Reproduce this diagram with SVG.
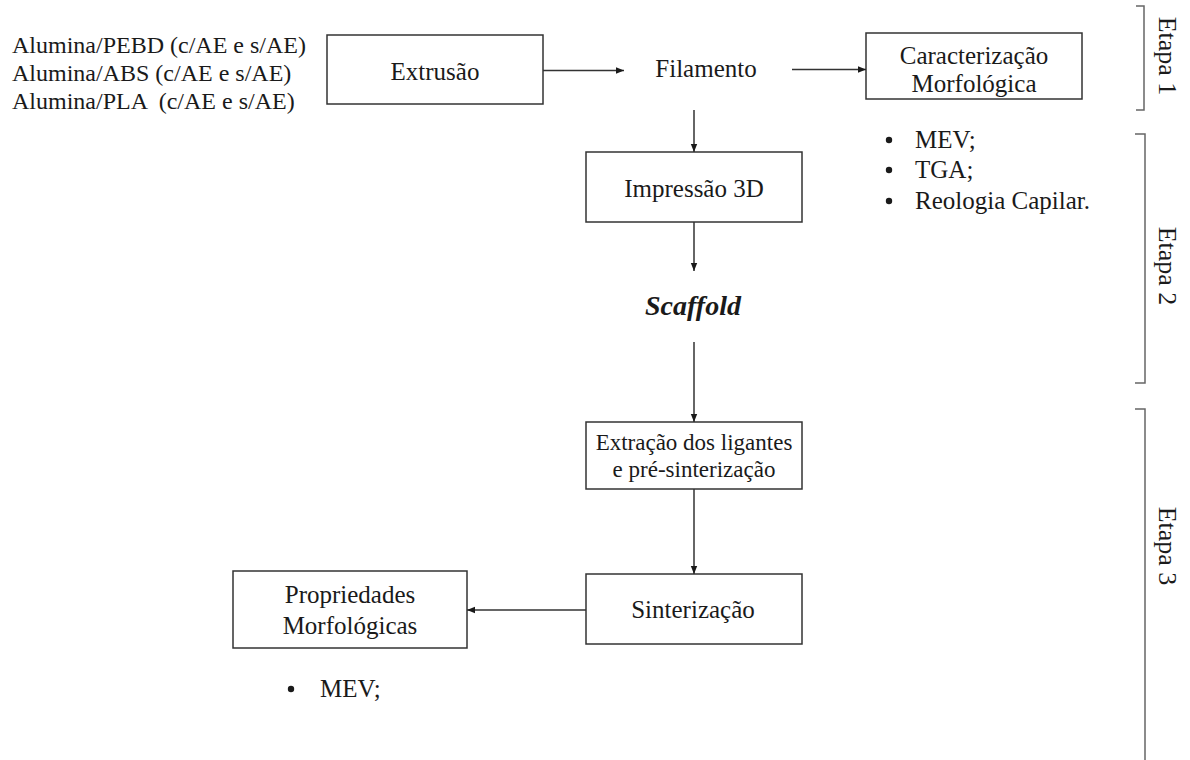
<svg xmlns="http://www.w3.org/2000/svg" width="1190" height="760" viewBox="0 0 1190 760">
<defs>
<style>
.t{font-family:"Liberation Serif","Times New Roman",serif;font-size:25px;fill:#1a1a1a}
.s{font-size:23px}
.l{font-size:24px}
.c{text-anchor:middle}
.box{fill:#fff;stroke:#333;stroke-width:1.5}
.ln{fill:none;stroke:#333;stroke-width:1.5}
.br{fill:none;stroke:#666;stroke-width:1.5}
.sc{font-weight:bold;font-style:italic;font-size:28px}
.dot{fill:#1a1a1a}
</style>
<marker id="ah" viewBox="0 0 10 10" refX="10" refY="5" markerWidth="8" markerHeight="8" markerUnits="userSpaceOnUse" orient="auto">
<path d="M0,1 L10,5 L0,9 Z" fill="#1a1a1a"/>
</marker>
</defs>
<rect width="1190" height="760" fill="#fff"/>

<g id="inputs">
<text class="t l" x="12" y="53">Alumina/PEBD (c/AE e s/AE)</text>
<text class="t l" x="12" y="81">Alumina/ABS (c/AE e s/AE)</text>
<text class="t l" x="12" y="109" xml:space="preserve">Alumina/PLA  (c/AE e s/AE)</text>
</g>

<g id="extrusao">
<rect class="box" x="327" y="35" width="216" height="69"/>
<text class="t c" x="435" y="80">Extrusão</text>
</g>

<g id="filamento">
<text class="t c" x="706" y="77">Filamento</text>
</g>

<g id="caracterizacao">
<rect class="box" x="866" y="33" width="216" height="66"/>
<text class="t c" x="974" y="64">Caracterização</text>
<text class="t c" x="974" y="92">Morfológica</text>
</g>

<g id="lista1">
<circle class="dot" cx="889" cy="140" r="3.2"/>
<circle class="dot" cx="889" cy="170" r="3.2"/>
<circle class="dot" cx="889" cy="201" r="3.2"/>
<text class="t" x="915" y="148">MEV;</text>
<text class="t" x="915" y="178">TGA;</text>
<text class="t" x="915" y="209">Reologia Capilar.</text>
</g>

<g id="impressao">
<rect class="box" x="586" y="152" width="216" height="70"/>
<text class="t c" x="694" y="197">Impressão 3D</text>
</g>

<g id="scaffold">
<text class="t sc c" x="693" y="315">Scaffold</text>
</g>

<g id="extracao">
<rect class="box" x="586" y="422" width="216" height="67"/>
<text class="t s c" x="694" y="450">Extração dos ligantes</text>
<text class="t s c" x="694" y="477">e pré-sinterização</text>
</g>

<g id="sinterizacao">
<rect class="box" x="586" y="574" width="216" height="70"/>
<text class="t c" x="693" y="618">Sinterização</text>
</g>

<g id="propriedades">
<rect class="box" x="233" y="571" width="234" height="77"/>
<text class="t c" x="350" y="603">Propriedades</text>
<text class="t c" x="350" y="634">Morfológicas</text>
</g>

<g id="lista2">
<circle class="dot" cx="291" cy="689" r="3.2"/>
<text class="t" x="320" y="697">MEV;</text>
</g>

<g id="etapas">
<path class="br" d="M1136,6 H1144 V110 H1136"/>
<path class="br" d="M1135,134 H1145 V383 H1135"/>
<path class="br" d="M1135,409 H1145 V760"/>
<text class="t" style="font-size:26px" transform="translate(1159,56) rotate(90)" text-anchor="middle">Etapa 1</text>
<text class="t" style="font-size:26px" transform="translate(1159,266) rotate(90)" text-anchor="middle">Etapa 2</text>
<text class="t" style="font-size:26px" transform="translate(1159,546) rotate(90)" text-anchor="middle">Etapa 3</text>
</g>

<g id="connectors">
<line class="ln" x1="543" y1="70.5" x2="624" y2="70.5" marker-end="url(#ah)"/>
<line class="ln" x1="792" y1="69.5" x2="866" y2="69.5" marker-end="url(#ah)"/>
<line class="ln" x1="694" y1="110" x2="694" y2="152" marker-end="url(#ah)"/>
<line class="ln" x1="694" y1="222" x2="694" y2="271" marker-end="url(#ah)"/>
<line class="ln" x1="694" y1="342" x2="694" y2="422" marker-end="url(#ah)"/>
<line class="ln" x1="694" y1="489" x2="694" y2="574" marker-end="url(#ah)"/>
<line class="ln" x1="586" y1="610" x2="467" y2="610" marker-end="url(#ah)"/>
</g>
</svg>
